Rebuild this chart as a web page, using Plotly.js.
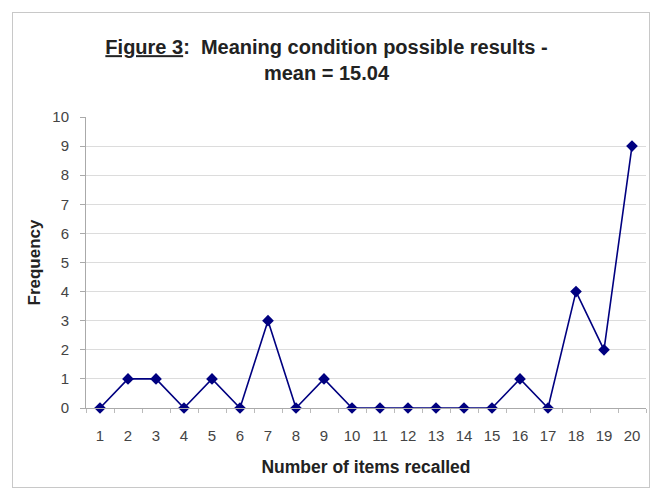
<!DOCTYPE html>
<html>
<head>
<meta charset="utf-8">
<script src="https://cdn.plot.ly/plotly-3.0.1.min.js"></script>
<style>
  html, body { margin: 0; padding: 0; background: #fff; }
  #wrap { position: relative; width: 653px; height: 488px; }
  #chart { width: 653px; height: 488px; }
  #frame {
    position: absolute; left: 12px; top: 12px; width: 636px; height: 474px;
    border: 1px solid #c8c8c8; pointer-events: none;
  }
</style>
</head>
<body>
<div id="wrap">
  <div id="chart"></div>
  <div id="frame"></div>
</div>
<script>
// Number of items recalled and how many participants recalled each amount
const itemsRecalled = ["1","2","3","4","5","6","7","8","9","10",
                       "11","12","13","14","15","16","17","18","19","20"];
const frequency = [0, 1, 1, 0, 1, 0, 3, 0, 1, 0,
                   0, 0, 0, 0, 0, 1, 0, 4, 2, 9];
const yTicks = [0,1,2,3,4,5,6,7,8,9,10];

const navy = "#000080";

const trace = {
  x: itemsRecalled,
  y: frequency,
  type: "scatter",
  mode: "lines+markers",
  line: { color: navy, width: 1.6 },
  marker: { symbol: "diamond", size: 9, color: navy },
  cliponaxis: false,
  hoverinfo: "x+y"
};

const layout = {
  width: 653,
  height: 488,
  margin: { l: 86, r: 7, t: 117, b: 80 },
  paper_bgcolor: "#ffffff",
  plot_bgcolor: "#ffffff",
  showlegend: false,
  font: { family: "Liberation Sans, Arial, sans-serif", color: "#222" },
  title: {
    text: "<b><u>Figure 3</u>:  Meaning condition possible results -<br>mean = 15.04</b>",
    font: { size: 20, color: "#222" },
    x: 0.5, xanchor: "center", xref: "container",
    y: 0.889, yanchor: "middle", yref: "container"
  },
  xaxis: {
    type: "category",
    categoryorder: "array",
    categoryarray: itemsRecalled,
    range: [-0.5, 19.5],
    tickson: "boundaries",
    ticks: "outside",
    ticklen: 4,
    tickcolor: "#bbb",
    showgrid: false,
    showline: true,
    linecolor: "#aaa",
    linewidth: 1,
    tickfont: { size: 15, color: "#444" },
    ticklabelstandoff: 14,
    title: {
      text: "<b>Number of items recalled</b>",
      font: { size: 17.5, color: "#222" },
      standoff: 17
    },
    fixedrange: true
  },
  yaxis: {
    range: [0, 10],
    tickvals: yTicks,
    ticks: "outside",
    ticklen: 5,
    tickcolor: "#aaa",
    showgrid: true,
    gridcolor: "#dcdcdc",
    gridwidth: 1,
    zeroline: false,
    showline: true,
    linecolor: "#aaa",
    linewidth: 1,
    tickfont: { size: 15, color: "#444" },
    ticklabelstandoff: 8,
    title: {
      text: "<b>Frequency</b>",
      font: { size: 17, color: "#222" },
      standoff: 7
    },
    fixedrange: true
  }
};

Plotly.newPlot("chart", [trace], layout, { displayModeBar: false, staticPlot: true });
</script>
</body>
</html>
